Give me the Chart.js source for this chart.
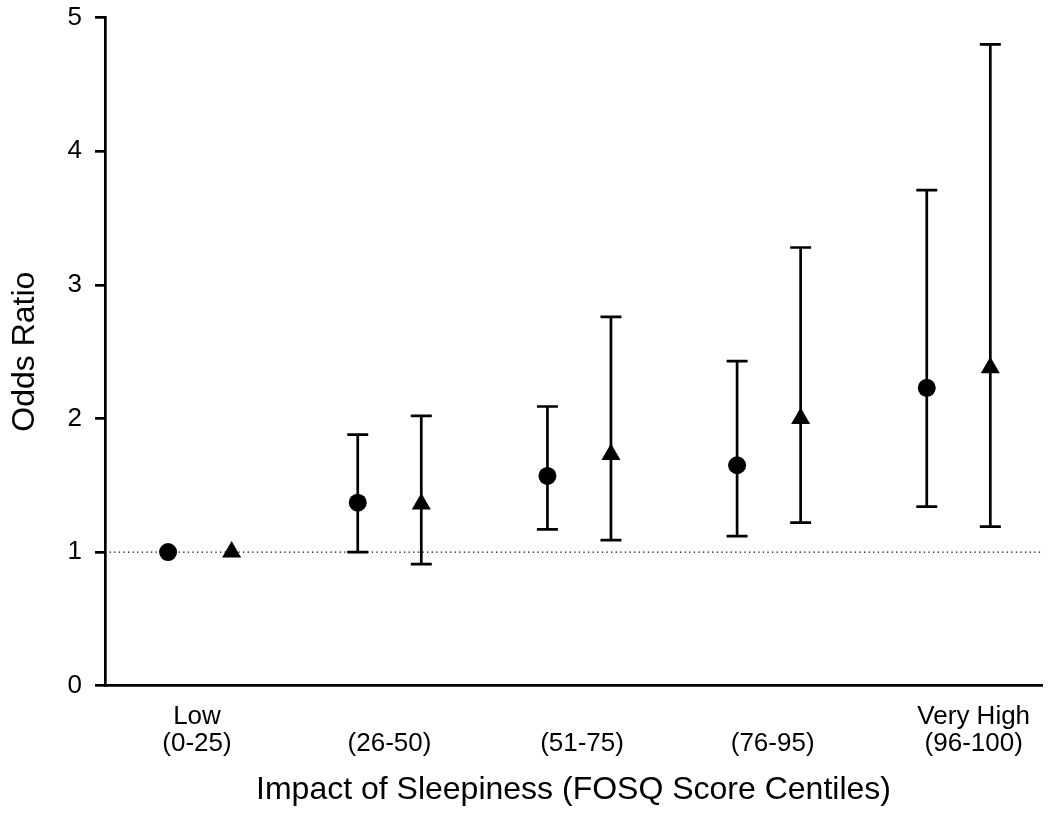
<!DOCTYPE html>
<html lang="en">
<head>
    <meta charset="UTF-8">
    <title>Odds Ratio by FOSQ Score Centiles</title>
    <script src="https://cdn.jsdelivr.net/npm/chart.js@4.4.1/dist/chart.umd.min.js"></script>
    <style>
        html, body {
            margin: 0;
            padding: 0;
            overflow: hidden;
            background: #ffffff;
        }

        .chart-container {
            width: 1053px;
            height: 816px;
        }
    </style>
</head>
<body>
    <div class="chart-container">
        <canvas id="orChart"></canvas>
    </div>

    <script>
        // groups along the x axis
        const groupLabels = [
            ['Low', '(0-25)'],
            ['', '(26-50)'],
            ['', '(51-75)'],
            ['', '(76-95)'],
            ['Very High', '(96-100)']
        ];
        // where each group label sits (in group units)
        const xTickPos = [0.985, 2.0, 3.015, 4.02, 5.08];

        // circles
        const circleOR = [1.0, 1.37, 1.57, 1.65, 2.23];
        const circleLo = [null, 1.0, 1.17, 1.12, 1.34];
        const circleHi = [null, 1.88, 2.09, 2.43, 3.71];

        // triangles
        const triOR = [1.0, 1.36, 1.73, 2.0, 2.38];
        const triLo = [null, 0.91, 1.09, 1.22, 1.19];
        const triHi = [null, 2.02, 2.76, 3.28, 4.80];

        const yTicks = [0, 1, 2, 3, 4, 5];
        const refLine = 1;

        const offset = 0.1675;
        const xMin = 0.5;
        const xMax = 5.44;
        const font = '"Liberation Sans", Arial, Helvetica, sans-serif';

        const toPoints = (vals, dx) => vals.map((v, i) => ({ x: i + 1 + dx, y: v }));

        const errorBars = {
            id: 'errorBars',
            beforeDatasetsDraw(chart) {
                const ctx = chart.ctx;
                const xs = chart.scales.x;
                const ys = chart.scales.y;
                chart.data.datasets.forEach(ds => {
                    if (!ds.errLo) return;
                    ctx.save();
                    ctx.strokeStyle = '#000';
                    ctx.lineWidth = 2.7;
                    ds.data.forEach((p, i) => {
                        if (ds.errLo[i] == null) return;
                        const px = xs.getPixelForValue(p.x);
                        const lo = ys.getPixelForValue(ds.errLo[i]);
                        const hi = ys.getPixelForValue(ds.errHi[i]);
                        ctx.beginPath();
                        ctx.moveTo(px, lo);
                        ctx.lineTo(px, hi);
                        ctx.moveTo(px - 10.5, lo);
                        ctx.lineTo(px + 10.5, lo);
                        ctx.moveTo(px - 10.5, hi);
                        ctx.lineTo(px + 10.5, hi);
                        ctx.stroke();
                    });
                    ctx.restore();
                });
            }
        };

        new Chart(document.getElementById('orChart'), {
            type: 'scatter',
            data: {
                datasets: [
                    {
                        label: 'circle',
                        data: toPoints(circleOR, -offset),
                        errLo: circleLo,
                        errHi: circleHi,
                        pointStyle: 'circle',
                        pointRadius: 9,
                        backgroundColor: '#000',
                        borderColor: '#000',
                        borderWidth: 0,
                        order: 1
                    },
                    {
                        label: 'triangle',
                        data: toPoints(triOR, offset),
                        errLo: triLo,
                        errHi: triHi,
                        pointStyle: 'triangle',
                        pointRadius: 11,
                        backgroundColor: '#000',
                        borderColor: '#000',
                        borderWidth: 0,
                        order: 1
                    },
                    {
                        type: 'line',
                        label: 'ref',
                        data: [{ x: xMin, y: refLine }, { x: xMax, y: refLine }],
                        borderColor: '#000',
                        borderWidth: 1.3,
                        borderDash: [1.3, 3.3],
                        pointRadius: 0,
                        order: 5
                    }
                ]
            },
            options: {
                responsive: true,
                maintainAspectRatio: false,
                animation: false,
                layout: {
                    padding: { top: 0, right: 5, left: 0, bottom: 0 }
                },
                plugins: {
                    legend: { display: false },
                    tooltip: { enabled: false }
                },
                scales: {
                    x: {
                        type: 'linear',
                        min: xMin,
                        max: xMax,
                        afterBuildTicks: scale => {
                            scale.ticks = xTickPos.map(v => ({ value: v }));
                        },
                        afterFit: scale => {
                            scale.height = 130.3;
                            scale.paddingLeft = 0;
                            scale.paddingRight = 0;
                        },
                        grid: { display: false },
                        border: { display: true, color: '#000', width: 2.7 },
                        ticks: {
                            autoSkip: false,
                            maxRotation: 0,
                            padding: 9,
                            color: '#000',
                            font: { family: font, size: 26, lineHeight: 1.05 },
                            callback: (value, index) => groupLabels[index]
                        },
                        title: {
                            display: true,
                            text: 'Impact of Sleepiness (FOSQ Score Centiles)',
                            color: '#000',
                            font: { family: font, size: 32 },
                            padding: { top: 0, bottom: 7 }
                        }
                    },
                    y: {
                        min: 0,
                        max: 5,
                        afterBuildTicks: scale => {
                            scale.ticks = yTicks.map(v => ({ value: v }));
                        },
                        afterFit: scale => {
                            scale.width = 105;
                            scale.paddingTop = 17.7;
                            scale.paddingBottom = 0;
                        },
                        grid: {
                            display: true,
                            drawOnChartArea: false,
                            drawTicks: true,
                            tickLength: 10,
                            color: '#000',
                            lineWidth: 2.7
                        },
                        border: { display: true, color: '#000', width: 2.7 },
                        ticks: {
                            padding: 13,
                            color: '#000',
                            font: { family: font, size: 26 }
                        },
                        title: {
                            display: true,
                            text: 'Odds Ratio',
                            color: '#000',
                            font: { family: font, size: 32 },
                            padding: { top: 6, bottom: 0 }
                        }
                    }
                }
            },
            plugins: [errorBars]
        });
    </script>
</body>
</html>
